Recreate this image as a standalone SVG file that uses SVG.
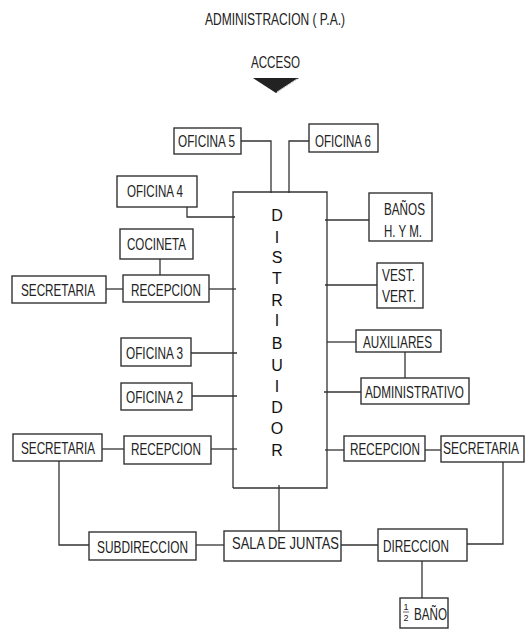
<svg xmlns="http://www.w3.org/2000/svg" width="526" height="629" viewBox="0 0 526 629">
<style>
.bx{fill:#fff;stroke:#333;stroke-width:1.4}
.t{font-family:"Liberation Sans",Arial,sans-serif;font-size:17px;fill:#222}
.c{fill:none;stroke:#333;stroke-width:1.3}
.d{font-family:"Liberation Sans",Arial,sans-serif;font-size:16px;fill:#111;text-anchor:middle}
</style>
<rect width="526" height="629" fill="#fff"/>
<g id="title">
<text class="t" x="205" y="25" textLength="140" lengthAdjust="spacingAndGlyphs">ADMINISTRACION  ( P.A.)</text>
</g>
<g id="acceso">
<text class="t" x="251" y="68" textLength="49" lengthAdjust="spacingAndGlyphs">ACCESO</text>
<polygon points="253,78 299,78 276,93" fill="#222"/>
<line x1="297" y1="79" x2="277" y2="92" stroke="#fff" stroke-width="0.8"/>
</g>
<g id="connectors">
<polyline class="c" points="241,141 271,141 271,193"/>
<polyline class="c" points="309,141 289,141 289,193"/>
<polyline class="c" points="187,207 187,217 235,217"/>
<line class="c" x1="160" y1="259" x2="160" y2="275"/>
<line class="c" x1="106" y1="289" x2="123" y2="289"/>
<line class="c" x1="209" y1="289" x2="236" y2="289"/>
<line class="c" x1="191" y1="353" x2="237" y2="353"/>
<line class="c" x1="192" y1="396" x2="237" y2="396"/>
<line class="c" x1="102" y1="449" x2="124" y2="449"/>
<line class="c" x1="211" y1="449" x2="237" y2="449"/>
<polyline class="c" points="59,461 59,545 89,545"/>
<line class="c" x1="196" y1="545" x2="224" y2="545"/>
<line class="c" x1="279" y1="485" x2="279" y2="531"/>
<line class="c" x1="341" y1="545" x2="378" y2="545"/>
<polyline class="c" points="503,462 503,544 466,544"/>
<line class="c" x1="422" y1="561" x2="422" y2="598"/>
<line class="c" x1="325" y1="450" x2="344" y2="450"/>
<line class="c" x1="425" y1="450" x2="441" y2="450"/>
<line class="c" x1="325" y1="220" x2="372" y2="220"/>
<line class="c" x1="325" y1="285" x2="377" y2="285"/>
<line class="c" x1="327" y1="342" x2="356" y2="342"/>
<line class="c" x1="405" y1="352" x2="405" y2="378"/>
<line class="c" x1="324" y1="392" x2="361" y2="392"/>
</g>
<g id="distribuidor">
<polyline class="c" points="233,488 233,192 327,192 327,488 233,488"/>
<text class="d" x="277" y="221">D</text>
<text class="d" x="277" y="243">I</text>
<text class="d" x="277" y="263">S</text>
<text class="d" x="277" y="284">T</text>
<text class="d" x="277" y="306">R</text>
<text class="d" x="277" y="326">I</text>
<text class="d" x="277" y="349">B</text>
<text class="d" x="277" y="371">U</text>
<text class="d" x="277" y="392">I</text>
<text class="d" x="277" y="413">D</text>
<text class="d" x="277" y="434">O</text>
<text class="d" x="277" y="456">R</text>
</g>
<g id="oficina5"><rect class="bx" x="174" y="128" width="67" height="26"/><text class="t" x="178" y="147" textLength="57" lengthAdjust="spacingAndGlyphs">OFICINA 5</text></g>
<g id="oficina6"><rect class="bx" x="309" y="124" width="69" height="28"/><text class="t" x="315" y="147" textLength="56" lengthAdjust="spacingAndGlyphs">OFICINA 6</text></g>
<g id="oficina4"><rect class="bx" x="117" y="176" width="80" height="31"/><text class="t" x="127" y="197" textLength="56" lengthAdjust="spacingAndGlyphs">OFICINA 4</text></g>
<g id="cocineta"><rect class="bx" x="120" y="229" width="73" height="30"/><text class="t" x="127" y="250" textLength="59" lengthAdjust="spacingAndGlyphs">COCINETA</text></g>
<g id="secretaria1"><rect class="bx" x="12" y="276" width="94" height="27"/><text class="t" x="21" y="296" textLength="74" lengthAdjust="spacingAndGlyphs">SECRETARIA</text></g>
<g id="recepcion1"><rect class="bx" x="123" y="275" width="86" height="27"/><text class="t" x="131" y="296" textLength="70" lengthAdjust="spacingAndGlyphs">RECEPCION</text></g>
<g id="oficina3"><rect class="bx" x="121" y="338" width="70" height="28"/><text class="t" x="126" y="359" textLength="57" lengthAdjust="spacingAndGlyphs">OFICINA 3</text></g>
<g id="oficina2"><rect class="bx" x="121" y="383" width="71" height="27"/><text class="t" x="126" y="403" textLength="57" lengthAdjust="spacingAndGlyphs">OFICINA 2</text></g>
<g id="secretaria2"><rect class="bx" x="13" y="434" width="89" height="27"/><text class="t" x="21" y="454" textLength="74" lengthAdjust="spacingAndGlyphs">SECRETARIA</text></g>
<g id="recepcion2"><rect class="bx" x="124" y="436" width="87" height="28"/><text class="t" x="131" y="455" textLength="70" lengthAdjust="spacingAndGlyphs">RECEPCION</text></g>
<g id="subdireccion"><rect class="bx" x="89" y="532" width="107" height="28"/><text class="t" x="97" y="553" textLength="91" lengthAdjust="spacingAndGlyphs">SUBDIRECCION</text></g>
<g id="sala"><rect class="bx" x="224" y="531" width="117" height="30"/><text class="t" x="232" y="549" textLength="107" lengthAdjust="spacingAndGlyphs">SALA DE JUNTAS</text></g>
<g id="direccion"><rect class="bx" x="378" y="529" width="89" height="32"/><text class="t" x="383" y="552" textLength="66" lengthAdjust="spacingAndGlyphs">DIRECCION</text></g>
<g id="recepcion3"><rect class="bx" x="344" y="436" width="81" height="25"/><text class="t" x="350" y="455" textLength="70" lengthAdjust="spacingAndGlyphs">RECEPCION</text></g>
<g id="secretaria3"><rect class="bx" x="441" y="436" width="83" height="26"/><text class="t" x="443" y="454" textLength="76" lengthAdjust="spacingAndGlyphs">SECRETARIA</text></g>
<g id="medio-bano"><rect class="bx" x="400" y="598" width="48" height="30"/>
<text x="406" y="610" font-family="Liberation Sans,Arial,sans-serif" font-size="9" fill="#222" text-anchor="middle">1</text>
<line x1="403" y1="612" x2="409" y2="612" stroke="#222" stroke-width="0.7"/>
<text x="406" y="621" font-family="Liberation Sans,Arial,sans-serif" font-size="9" fill="#222" text-anchor="middle">2</text>
<text class="t" x="414" y="620" textLength="33" lengthAdjust="spacingAndGlyphs">BAÑO</text></g>
<g id="banos"><rect class="bx" x="369" y="193" width="63" height="48"/><text class="t" x="384" y="215" textLength="41" lengthAdjust="spacingAndGlyphs">BAÑOS</text><text class="t" x="384" y="237" textLength="38" lengthAdjust="spacingAndGlyphs">H. Y M.</text></g>
<g id="vest"><rect class="bx" x="377" y="263" width="46" height="45"/><text class="t" x="382" y="281" textLength="33" lengthAdjust="spacingAndGlyphs">VEST.</text><text class="t" x="382" y="302" textLength="34" lengthAdjust="spacingAndGlyphs">VERT.</text></g>
<g id="auxiliares"><rect class="bx" x="356" y="330" width="85" height="22"/><text class="t" x="363" y="348" textLength="69" lengthAdjust="spacingAndGlyphs">AUXILIARES</text></g>
<g id="administrativo"><rect class="bx" x="361" y="378" width="108" height="26"/><text class="t" x="365" y="398" textLength="99" lengthAdjust="spacingAndGlyphs">ADMINISTRATIVO</text></g>
</svg>
